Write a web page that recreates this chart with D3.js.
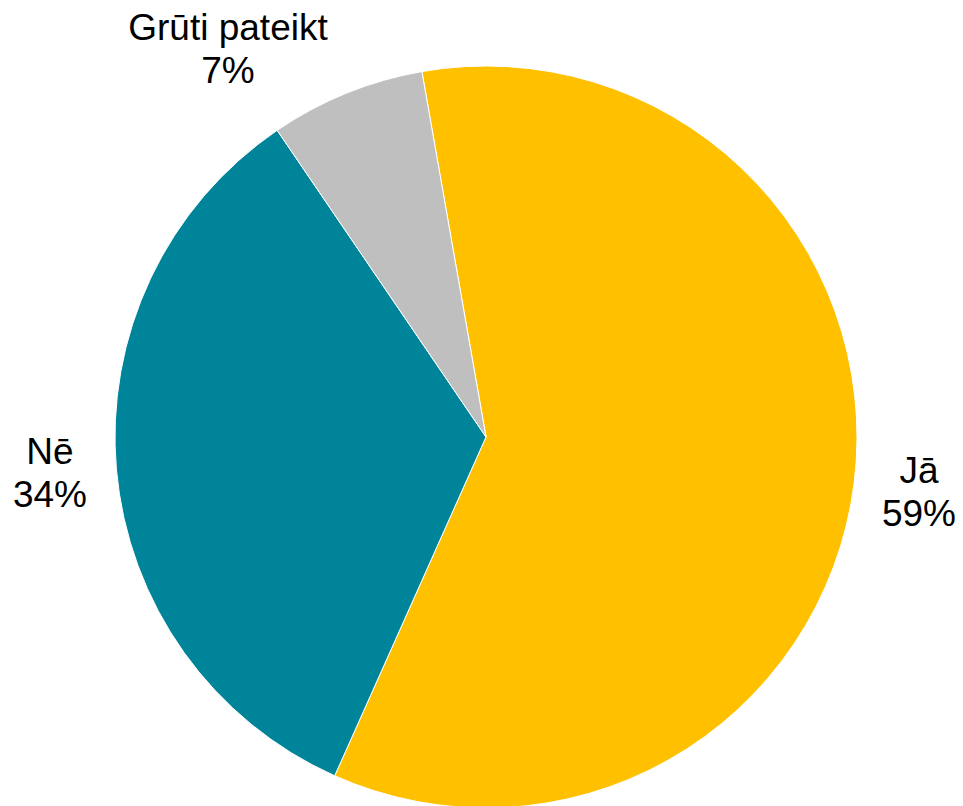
<!DOCTYPE html>
<html>
<head>
<meta charset="utf-8">
<script src="https://cdn.jsdelivr.net/npm/d3@7"></script>
<style>
html,body{margin:0;padding:0;background:#fff;}
svg{display:block;}
text{font-family:"Liberation Sans",Arial,sans-serif;fill:#000;}
</style>
</head>
<body>
<svg id="chart" width="963" height="806"></svg>
<script>
const categories = ["Jā", "Nē", "Grūti pateikt"];
const values = [59.45, 33.8, 6.75];
const colors = ["#FFC000", "#00849A", "#BFBFBF"];
const labelPos = [[919, 483], [50, 464], [228, 40]];

const W = 963, H = 806;
const cx = 486, cy = 437, R = 371;
const startDeg = -9.95;

const svg = d3.select("#chart");
const g = svg.append("g").attr("transform", `translate(${cx},${cy})`);

const data = categories.map((c, i) => ({cat: c, value: values[i], color: colors[i], lp: labelPos[i]}));

const pie = d3.pie().value(d => d.value).sort(null)
  .startAngle(startDeg * Math.PI / 180)
  .endAngle(startDeg * Math.PI / 180 + 2 * Math.PI);
const arc = d3.arc().innerRadius(0).outerRadius(R);

g.selectAll("path").data(pie(data)).join("path")
  .attr("d", arc)
  .attr("fill", d => d.data.color)
  .attr("stroke", "#fff")
  .attr("stroke-width", 1);

const fmt = v => Math.floor(v + 0.5 - 1e-9) + "%";
const labels = svg.selectAll("text.lbl").data(data).join("text")
  .attr("class", "lbl")
  .attr("text-anchor", "middle")
  .attr("font-size", 37)
  .attr("x", d => d.lp[0])
  .attr("y", d => d.lp[1]);
labels.append("tspan").attr("x", d => d.lp[0]).text(d => d.cat);
labels.append("tspan").attr("x", d => d.lp[0]).attr("dy", 43).text(d => fmt(d.value));
</script>
</body>
</html>
